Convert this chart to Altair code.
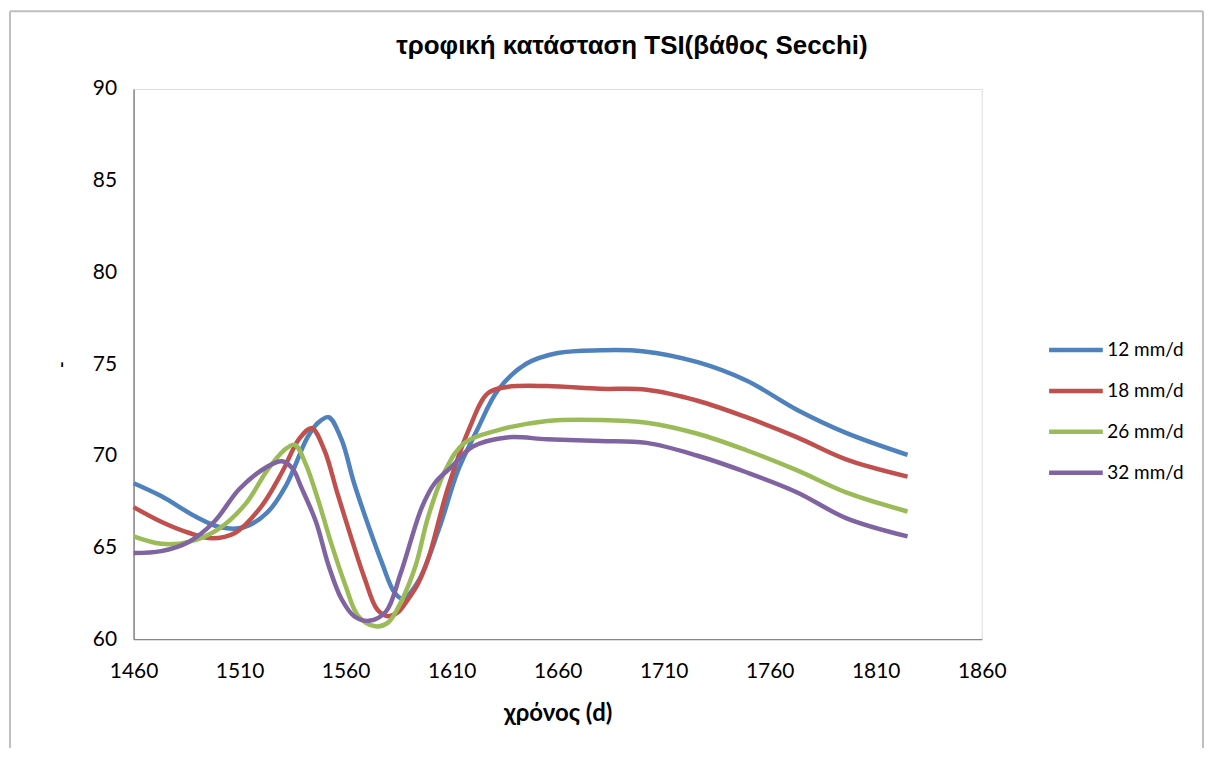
import altair as alt
import pandas as pd

chart_title = "τροφική κατάσταση TSI(βάθος Secchi)"
series_names = ["12 mm/d", "18 mm/d", "26 mm/d", "32 mm/d"]
series_colors = ["#4F81BD", "#C0504D", "#9BBB59", "#8064A2"]

days_12 = [1460, 1473, 1489, 1501, 1512, 1523, 1532, 1542, 1547, 1552, 1558, 1564, 1571, 1577, 1583, 1587,
           1594, 1604, 1613, 1622, 1632, 1645, 1660, 1680, 1700, 1726, 1749, 1773, 1796, 1825]
tsi_12 = [68.5, 67.8, 66.7, 66.1, 66.1, 66.9, 68.4, 71.0, 71.8, 72.1, 70.9, 68.5, 66.1, 64.2, 62.55, 62.2,
          63.1, 66.0, 69.2, 71.4, 73.6, 75.0, 75.6, 75.75, 75.7, 75.1, 74.1, 72.5, 71.25, 70.05]

days_18 = [1460, 1473, 1486, 1497, 1508, 1520, 1530, 1538, 1544, 1550, 1556, 1563, 1569, 1575, 1580,
           1585, 1589, 1594, 1599, 1608, 1618, 1627, 1636, 1655, 1680, 1702, 1726, 1749, 1773, 1796, 1825]
tsi_18 = [67.2, 66.4, 65.8, 65.5, 65.8, 67.2, 69.1, 70.9, 71.5, 70.3, 68.0, 65.4, 63.3, 61.6, 61.25,
          61.5, 62.1, 63.0, 64.4, 68.15, 71.4, 73.4, 73.75, 73.8, 73.65, 73.6, 73.0, 72.1, 71.0, 69.8, 68.86]

days_26 = [1460, 1473, 1486, 1500, 1513, 1523, 1531, 1536, 1541, 1547, 1553, 1560, 1566, 1574, 1580,
           1586, 1593, 1599, 1607, 1616, 1632, 1655, 1680, 1702, 1726, 1749, 1773, 1796, 1825]
tsi_26 = [65.6, 65.2, 65.3, 66.0, 67.4, 69.2, 70.3, 70.6, 69.6, 67.6, 65.3, 62.9, 61.25, 60.7, 60.9,
          62.0, 64.0, 66.7, 69.2, 70.7, 71.4, 71.9, 71.95, 71.8, 71.2, 70.3, 69.2, 68.0, 66.96]

days_32 = [1460, 1473, 1486, 1498, 1510, 1523, 1530, 1535, 1539, 1546, 1552, 1558, 1564, 1571, 1579,
           1586, 1596, 1602, 1610, 1620, 1636, 1655, 1680, 1702, 1726, 1749, 1773, 1796, 1825]
tsi_32 = [64.7, 64.8, 65.3, 66.4, 68.2, 69.4, 69.7, 69.3, 68.3, 66.4, 64.0, 62.2, 61.25, 61.0, 61.5,
          63.6, 67.2, 68.5, 69.4, 70.5, 71.0, 70.9, 70.8, 70.7, 70.0, 69.1, 68.0, 66.6, 65.6]

x_ticks = [1460, 1510, 1560, 1610, 1660, 1710, 1760, 1810, 1860]
y_ticks = [60, 65, 70, 75, 80, 85, 90]

frames = []
for name, d, v in zip(series_names, [days_12, days_18, days_26, days_32], [tsi_12, tsi_18, tsi_26, tsi_32]):
    frames.append(pd.DataFrame({"day": d, "tsi": v, "series": name}))
df = pd.concat(frames, ignore_index=True)

lines = alt.Chart(df).mark_line(interpolate="catmull-rom", strokeWidth=4.5).encode(
    x=alt.X("day:Q",
            scale=alt.Scale(domain=[1460, 1860], nice=False, zero=False),
            axis=alt.Axis(values=x_ticks, format="d", title="χρόνος (d)", grid=False, ticks=False,
                          labelFont="Lato", labelFontSize=21, labelColor="#000000",
                          labelPadding=22, titleFont="Lato", titleFontSize=24,
                          titleFontWeight="bold", titleColor="#000000", titlePadding=20,
                          domainColor="#868686", domainWidth=1.5, labelFlush=False)),
    y=alt.Y("tsi:Q",
            scale=alt.Scale(domain=[60, 90], nice=False, zero=False),
            axis=alt.Axis(values=y_ticks, title="-", grid=False, ticks=False,
                          labelFont="Lato", labelFontSize=21, labelColor="#000000",
                          labelPadding=17, titleFont="Lato", titleFontSize=18,
                          titleColor="#000000", titlePadding=22,
                          domainColor="#868686", domainWidth=1.5)),
    color=alt.Color("series:N",
                    scale=alt.Scale(domain=series_names, range=series_colors),
                    legend=alt.Legend(title=None, orient="none", legendX=916, legendY=252,
                                      symbolType="stroke", symbolSize=2900, symbolStrokeWidth=4.5,
                                      clipHeight=20, rowPadding=21, labelFont="Lato",
                                      labelFontSize=19, labelColor="#000000", labelOffset=2)),
)

one = pd.DataFrame({"k": [0]})
border_style = dict(color="#BFBFBF", strokeWidth=2)
border_top = alt.Chart(one).mark_rule(**border_style).encode(
    x=alt.value(-124), x2=alt.value(1073), y=alt.value(-78))
border_left = alt.Chart(one).mark_rule(**border_style).encode(
    x=alt.value(-124), y=alt.value(-78), y2=alt.value(700))
border_right = alt.Chart(one).mark_rule(**border_style).encode(
    x=alt.value(1073), y=alt.value(-78), y2=alt.value(700))

title_mark = alt.Chart(one).mark_text(
    font="Liberation Sans", fontSize=26, fontWeight="bold", color="#000000",
    align="center", baseline="middle"
).encode(x=alt.value(500), y=alt.value(-43), text=alt.value(chart_title))

chart = alt.layer(border_top, border_left, border_right, title_mark, lines).properties(
    width=851, height=552,
    autosize=alt.AutoSizeParams(type="none"),
    padding={"left": 126, "top": 80, "right": 224, "bottom": 108},
).configure_view(stroke=None).configure(background="white")

chart.save("out.html", embed_options={"renderer": "svg", "actions": False})
